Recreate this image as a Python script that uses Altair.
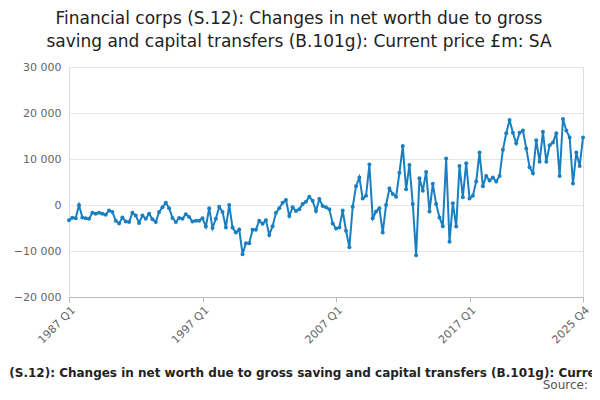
import pandas as pd
import altair as alt

values = [
    -3300, -2750, -2900, 0, -2700, -2900, -3000, -1700, -1900, -1700,
    -1900, -2100, -1200, -1500, -3400, -4000, -2700, -3600, -3700, -1700,
    -2300, -3900, -2300, -3000, -1900, -3100, -3700, -1500, -500, 500,
    -700, -2800, -3700, -2800, -3000, -2000, -2600, -3600, -3400, -3400,
    -2900, -4700, -700, -5000, -3000, -400, -1500, -4900,
    0, -4900, -6000, -5300, -10700, -8300, -8300, -5400, -5400, -3400,
    -4100, -3300, -6500, -4600, -1700, -700, 500, 1100, -2400, -500,
    -1300, -900, 200, 700, 1800, 900, -1300, 1300, -200, -500,
    -900, -4000, -5100, -4900, -1200, -5600, -9200, -400, 4100, 6000,
    1400, 2000, 8800, -2900, -1400, -700, -6000, 0, 3600, 2400,
    1800, 7000, 12800,
    3400, 8700, 200, -10900, 5800, 3100, 7200, -1400, 4600, 200,
    -2700, -4600, 10100, -8000, 400, -4700, 8500, 1700, 9100, 1400,
    2000, 5100, 11400, 4100, 6300, 5300, 6000, 5100, 6300, 12000,
    15600, 18500, 15700, 13400, 15700, 16200, 12300, 8200, 6900, 14100,
    9400, 15900, 9400, 13000, 13600, 15600, 6300, 18700, 16200, 14700,
    4700, 11400, 8500, 14700,
]
tick_idx = [0, 40, 80, 120, len(values) - 1]
tick_labels = ["1987 Q1", "1997 Q1", "2007 Q1", "2017 Q1", "2025 Q4"]

df = pd.DataFrame({"i": range(len(values)), "v": values})
label_expr = " : ".join(
    f"datum.value == {i} ? '{l}'" for i, l in zip(tick_idx, tick_labels)
) + " : ''"

axis_title = ("Financial corps (S.12): Changes in net worth due to gross saving "
              "and capital transfers (B.101g): Current price £m: SA")

line = alt.Chart(df).mark_line(
    color="#1a7fc1", strokeWidth=2,
    point=alt.OverlayMarkDef(color="#1a7fc1", size=16, filled=True),
).encode(
    x=alt.X("i:Q", scale=alt.Scale(domain=[0, len(values) - 1], nice=False),
            axis=alt.Axis(values=tick_idx, labelExpr=label_expr, labelAngle=-45,
                          grid=False, title=axis_title, titleFontSize=12,
                          titleFontWeight="bold", titleColor="#222",
                          titlePadding=22, titleX=232,
                          labelColor="#666", labelFontSize=11,
                          domainColor="#bbb", tickColor="#bbb")),
    y=alt.Y("v:Q", scale=alt.Scale(domain=[-20000, 30000]),
            axis=alt.Axis(values=[-20000, -10000, 0, 10000, 20000, 30000],
                          labelExpr="replace(format(datum.value, ',d'), /,/g, ' ')",
                          title=None, domain=False, ticks=False,
                          labelColor="#666", labelFontSize=11,
                          gridColor="#e6e6e6", labelPadding=8)),
)

source = alt.Chart(pd.DataFrame({"t": ["Source:"]})).mark_text(
    align="right", fontSize=12, color="#555"
).encode(text="t:N", x=alt.value(519), y=alt.value(318))

chart = alt.layer(line, source).properties(
    width=514, height=230,
    autosize=alt.AutoSizeParams(type="none"),
    padding={"left": 61, "top": 59, "right": 9, "bottom": 95},
    title=alt.TitleParams(
        ["Financial corps (S.12): Changes in net worth due to gross",
         "saving and capital transfers (B.101g): Current price £m: SA"],
        fontSize=17, fontWeight="normal", color="#222",
        anchor="middle", dx=-27, offset=10, lineHeight=23,
    ),
).configure_view(stroke=None).configure(font="DejaVu Sans")

chart.save("out.html", embed_options={"renderer": "svg", "actions": False})
